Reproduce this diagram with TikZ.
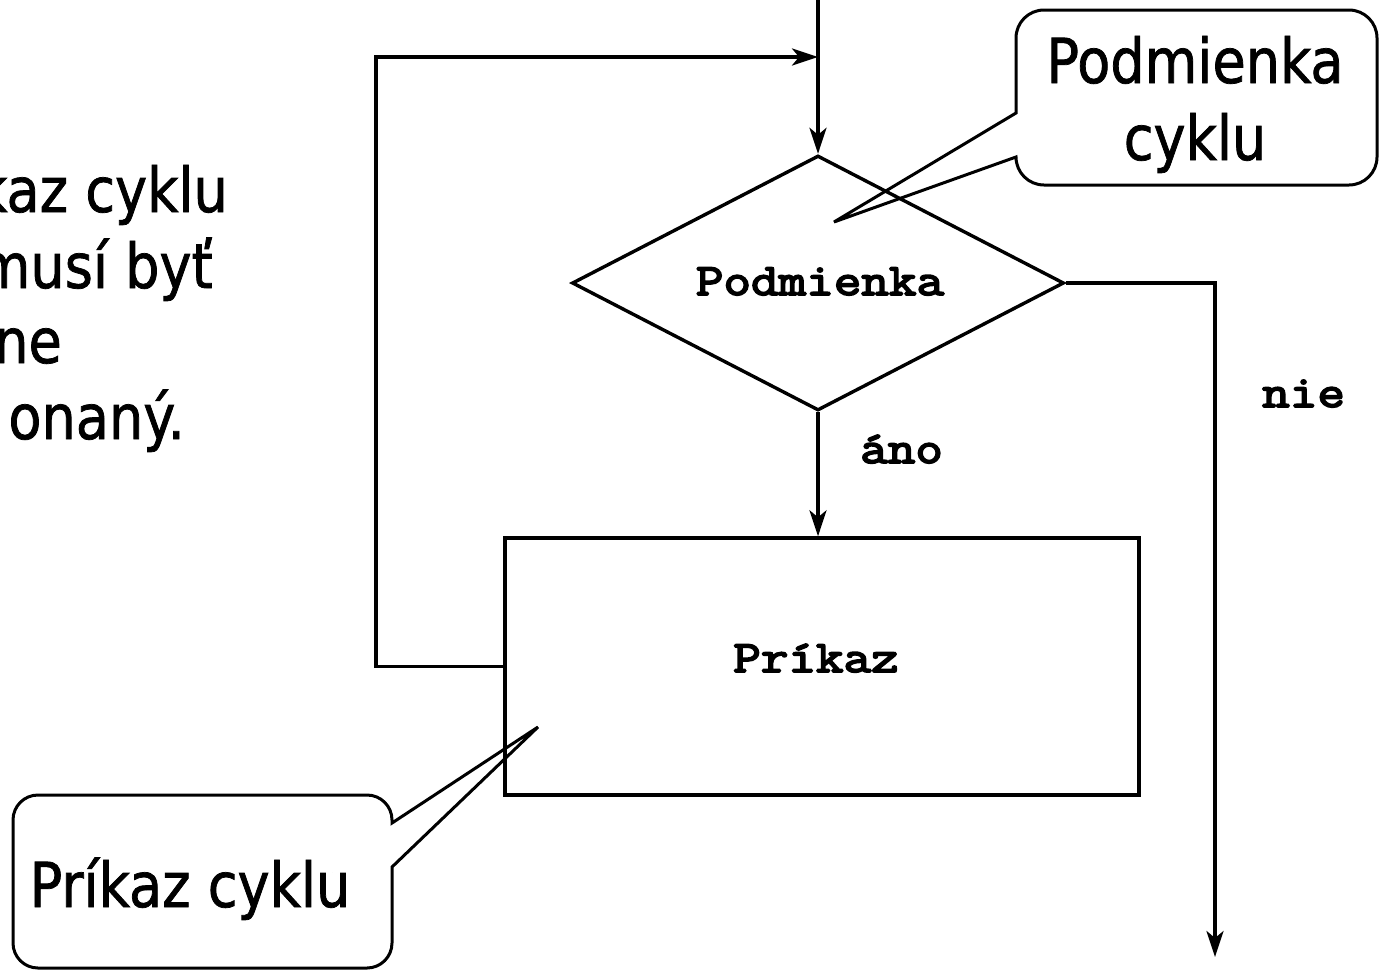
\documentclass[tikz,border=0pt]{standalone}
\usepackage{fontspec}
\setmainfont[FakeStretch=0.873, FakeBold=1.2]{DejaVu Sans}
\newfontfamily\codefont[FakeBold=4, FakeStretch=1.19]{Latin Modern Mono}
\usetikzlibrary{shapes.geometric,arrows.meta}
\begin{document}
\begin{tikzpicture}[x=1pt,y=-1pt,
  flow/.style={line width=3.4pt},
  arr/.style={flow,-{Stealth[length=26pt,width=17pt,inset=7pt]}},
  callout/.style={line width=3pt, line join=miter},
  big/.style={font=\fontsize{62}{77}\selectfont, inner sep=0pt},
  code/.style={font=\codefont\fontsize{45}{50}\selectfont, inner sep=0pt}]
\useasboundingbox (0,0) rectangle (1380,970);
\clip (0,0) rectangle (1380,970);

% flowchart shapes
\node[draw, flow, diamond, aspect=2, minimum width=492pt, minimum height=255pt, inner sep=0pt] (dia) at (818,283) {};
\node[draw, flow, rectangle, minimum width=634pt, minimum height=257pt, inner sep=0pt] (box) at (822,666.5) {};

% labels
\node[code, anchor=base] (tcond) at (820,295) {Podmienka};
\node[code, anchor=base] (tstmt) at (816,672) {Príkaz};
\node[code, anchor=base west] (tyes) at (860,463) {áno};
\node[code, anchor=base west] (tno) at (1262,407) {nie};

% connectors
\coordinate (entry) at (818,0);
\coordinate (merge) at (818,57);
\coordinate (loopcorner) at (376,57);
\coordinate (exit) at (1215,957);
\draw[arr] (entry) -- (dia.north);
\draw[arr] (dia.south) -- (dia.south |- box.north);
\draw[arr] (box.west) -| (loopcorner) -- (merge);
\draw[arr] (dia.east) -| (exit);

% callouts
\draw[callout] (1016,113) -- (834,222) -- (1016,157)
  {[rounded corners=28pt] -- (1016,185) -- (1377,185) -- (1377,10) -- (1016,10)} -- cycle;
\node[big, anchor=base] (c1a) at (1195,83) {Podmienka};
\node[big, anchor=base] (c1b) at (1195,160) {cyklu};

\draw[callout] (392,823) -- (538,727) -- (392,867)
  {[rounded corners=25pt] -- (392,968) -- (13,968) -- (13,795) -- (392,795)} -- cycle;
\node[big, anchor=base] (c2) at (190,907) {Príkaz cyklu};

% side note, running past the left edge
\node[big, anchor=base east] (n1) at (228,212) {kaz cyklu};
\node[big, anchor=base east] (n2) at (213,288) {musí byť};
\node[big, anchor=base east] (n3) at (62,363) {ne};
\node[big, anchor=base east] (n4) at (185,439) {onaný.};
\end{tikzpicture}
\end{document}
